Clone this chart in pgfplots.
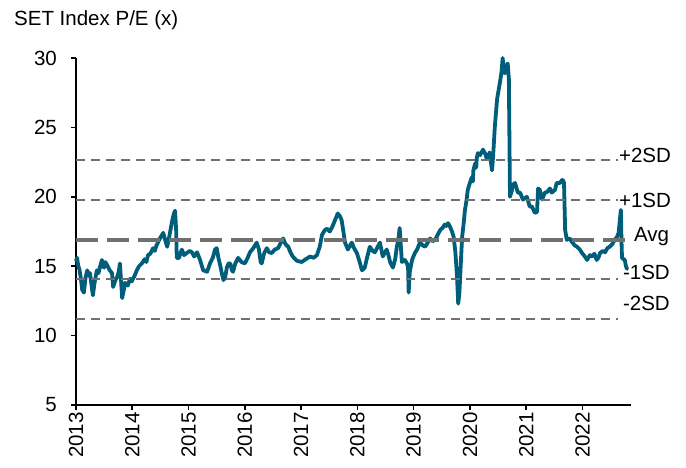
\documentclass[border=0pt]{standalone}
\usepackage{pgfplots}
\pgfplotsset{compat=1.18}
\usepackage{fontspec}
\setmainfont{Liberation Sans}
\definecolor{setline}{RGB}{0,94,122}
\definecolor{refgray}{RGB}{112,112,112}
\pgfplotstableread{
x y
2013.00 15.4
2013.02 15.6
2013.04 15.0
2013.06 14.8
2013.09 14.0
2013.11 13.3
2013.14 13.1
2013.17 14.2
2013.20 14.7
2013.23 14.3
2013.25 14.5
2013.28 13.5
2013.30 12.9
2013.33 13.8
2013.37 14.7
2013.40 14.5
2013.43 15.0
2013.46 15.45
2013.48 15.0
2013.50 14.9
2013.52 15.3
2013.55 15.1
2013.60 14.7
2013.64 14.5
2013.66 13.5
2013.70 14.0
2013.73 14.2
2013.76 14.6
2013.78 15.2
2013.80 14.0
2013.82 12.7
2013.85 13.3
2013.87 13.8
2013.92 13.6
2013.96 14.1
2013.99 13.9
2014.04 14.3
2014.08 14.7
2014.12 15.0
2014.17 15.2
2014.22 15.5
2014.25 15.3
2014.28 15.8
2014.32 15.9
2014.37 16.3
2014.40 16.1
2014.43 16.5
2014.49 17.0
2014.55 17.4
2014.59 16.8
2014.62 16.4
2014.66 17.2
2014.71 18.3
2014.74 18.8
2014.76 19.0
2014.78 17.5
2014.79 15.6
2014.83 15.6
2014.88 16.2
2014.92 15.8
2014.97 15.95
2015.02 16.1
2015.06 16.0
2015.10 15.7
2015.15 16.0
2015.20 15.5
2015.26 14.7
2015.33 14.6
2015.38 15.2
2015.43 15.6
2015.47 16.2
2015.50 16.3
2015.53 15.6
2015.56 15.1
2015.59 14.5
2015.62 14.0
2015.65 14.2
2015.68 14.9
2015.71 15.2
2015.74 15.2
2015.77 14.7
2015.79 14.6
2015.83 15.2
2015.88 15.6
2015.94 15.3
2016.00 15.2
2016.05 15.6
2016.09 16.0
2016.15 16.3
2016.21 16.7
2016.25 16.2
2016.28 15.3
2016.30 15.2
2016.34 15.9
2016.39 16.3
2016.43 16.0
2016.48 15.95
2016.53 16.2
2016.59 16.3
2016.64 16.7
2016.68 17.0
2016.72 16.6
2016.77 16.4
2016.81 16.0
2016.85 15.7
2016.92 15.4
2017.01 15.3
2017.08 15.5
2017.16 15.7
2017.22 15.6
2017.28 15.8
2017.33 16.4
2017.37 17.25
2017.42 17.6
2017.46 17.7
2017.51 17.5
2017.56 17.9
2017.60 18.3
2017.65 18.8
2017.69 18.6
2017.72 18.3
2017.75 17.5
2017.78 16.7
2017.83 16.2
2017.87 16.5
2017.90 16.7
2017.94 16.3
2017.99 15.95
2018.04 15.3
2018.08 14.7
2018.13 14.9
2018.17 15.6
2018.22 16.4
2018.27 16.1
2018.31 16.0
2018.36 16.4
2018.40 16.7
2018.45 15.7
2018.49 16.0
2018.52 16.2
2018.55 15.8
2018.58 15.3
2018.63 14.9
2018.67 15.5
2018.70 16.4
2018.73 17.0
2018.75 17.75
2018.77 16.5
2018.79 15.3
2018.84 15.45
2018.88 15.2
2018.90 14.9
2018.91 13.1
2018.93 14.6
2018.97 15.45
2019.02 15.95
2019.06 16.2
2019.11 16.7
2019.16 16.5
2019.20 16.4
2019.25 16.7
2019.29 17.0
2019.34 16.8
2019.38 16.9
2019.43 17.3
2019.47 17.6
2019.52 17.8
2019.55 18.0
2019.58 17.9
2019.61 18.1
2019.65 17.8
2019.68 17.5
2019.71 17.1
2019.74 16.0
2019.77 14.2
2019.79 12.3
2019.81 13.0
2019.82 13.8
2019.84 15.5
2019.86 17.1
2019.89 18.2
2019.91 19.05
2019.94 19.8
2019.96 20.5
2019.99 20.9
2020.03 21.4
2020.05 21.1
2020.06 21.9
2020.09 22.4
2020.11 22.1
2020.12 22.8
2020.14 23.15
2020.18 23.0
2020.23 23.4
2020.27 23.1
2020.30 22.7
2020.32 22.9
2020.35 23.2
2020.39 21.9
2020.41 22.9
2020.44 25.0
2020.48 27.0
2020.50 27.5
2020.53 28.2
2020.56 29.0
2020.58 30.0
2020.60 29.0
2020.62 28.9
2020.65 29.5
2020.67 29.6
2020.69 28.5
2020.71 20.0
2020.74 20.4
2020.76 20.85
2020.80 21.0
2020.85 20.3
2020.89 20.3
2020.94 19.8
2021.01 20.0
2021.06 19.3
2021.10 19.3
2021.15 18.85
2021.19 18.9
2021.21 20.6
2021.24 20.5
2021.28 19.8
2021.33 20.3
2021.37 20.35
2021.42 20.6
2021.45 20.3
2021.51 20.5
2021.54 21.0
2021.60 21.0
2021.63 21.2
2021.65 21.2
2021.67 21.0
2021.69 17.6
2021.72 16.9
2021.77 17.0
2021.81 16.75
2021.86 16.5
2021.90 16.4
2021.95 16.2
2021.99 15.95
2022.04 15.7
2022.08 15.45
2022.13 15.8
2022.17 15.7
2022.21 15.9
2022.25 15.45
2022.28 15.6
2022.31 15.95
2022.36 16.1
2022.40 16.0
2022.44 16.3
2022.48 16.4
2022.53 16.6
2022.57 16.9
2022.61 17.1
2022.64 17.4
2022.68 19.05
2022.69 17.0
2022.70 15.6
2022.73 15.5
2022.75 15.45
2022.77 15.0
2022.79 14.8
}\pedata
\begin{document}
\fontsize{20.5}{24}\selectfont
\begin{tikzpicture}
\useasboundingbox (-76pt,-63pt) rectangle (610pt,405pt);
\begin{axis}[
  at={(0pt,0pt)}, anchor=south west,
  width=555pt, height=347pt, scale only axis,
  xmin=2013, xmax=2022.86, ymin=5, ymax=30,
  axis lines*=left,
  axis line style={line width=1.6pt, black},
  xtick={2013,2014,...,2022},
  ytick={5,10,...,30},
  tick align=outside,
  major tick length=5pt,
  tick style={line width=1.6pt, black},
  /pgf/number format/1000 sep={},
  /pgf/number format/assume math mode=true,
  tick label style={font=\fontsize{20.5}{24}\selectfont},
  xticklabel style={rotate=90, anchor=east, inner sep=2pt},
  yticklabel style={anchor=east, inner sep=0pt, xshift=-14pt},
  clip=false,
]
\addplot[setline, line width=3.8pt, line join=round, line cap=round] table[x=x,y=y] {\pedata};
\addplot[refgray, line width=2pt, dash pattern=on 9pt off 6pt] coordinates {(2013,22.62) (2022.63,22.62)};
\addplot[refgray, line width=2pt, dash pattern=on 9pt off 6pt] coordinates {(2013,19.77) (2022.63,19.77)};
\addplot[refgray, line width=2pt, dash pattern=on 9pt off 6pt] coordinates {(2013,14.07) (2022.63,14.07)};
\addplot[refgray, line width=2pt, dash pattern=on 9pt off 6pt] coordinates {(2013,11.22) (2022.63,11.22)};
\addplot[refgray, line width=4pt, dash pattern=on 22pt off 9pt] coordinates {(2013,16.92) (2022.77,16.92)};
\node[anchor=west, inner sep=0pt] at (axis cs:2022.645,23.0) {+2SD};
\node[anchor=west, inner sep=0pt] at (axis cs:2022.645,19.77) {+1SD};
\node[anchor=west, inner sep=0pt] at (axis cs:2022.91,17.1) {Avg};
\node[anchor=west, inner sep=0pt] at (axis cs:2022.715,14.58) {-1SD};
\node[anchor=west, inner sep=0pt] at (axis cs:2022.715,12.35) {-2SD};
\end{axis}
\node[anchor=west, inner sep=0pt] at (-62pt,385pt) {SET Index P/E (x)};
\end{tikzpicture}
\end{document}
